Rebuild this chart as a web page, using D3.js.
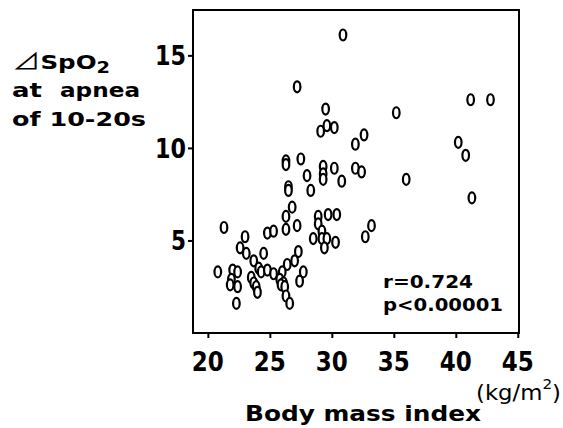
<!DOCTYPE html>
<html><head><meta charset="utf-8">
<script src="https://cdn.jsdelivr.net/npm/d3@7"></script>
<style>
body{margin:0;background:#fff;}
svg{display:block;}
text{fill:#000;}
</style></head>
<body>
<script>
const bmi = [30.9,27.2,29.5,35.2,41.2,42.8,29.1,29.6,30.2,31.9,32.6,40.2,40.8,26.3,26.3,27.5,28.0,28.3,29.3,29.3,29.3,30.2,30.8,31.9,32.4,36.0,41.3,26.5,26.5,26.8,26.3,28.9,29.7,30.4,33.2,32.7,26.3,27.2,21.3,24.8,25.3,23.0,22.6,23.1,24.5,28.9,29.2,28.5,29.2,29.6,30.3,29.4,27.3,23.7,24.1,24.3,24.8,25.3,27.0,26.4,26.0,27.7,27.4,20.8,22.0,22.4,21.9,21.8,22.4,23.5,23.7,23.9,24.0,25.8,26.1,25.9,26.2,26.3,26.6,22.3];
const dspo2 = [16.1,13.3,12.1,11.9,12.6,12.6,10.9,11.2,11.1,10.2,10.7,10.3,9.6,9.3,9.1,9.4,8.5,7.7,9.0,8.6,8.3,8.9,8.2,8.9,8.7,8.3,7.3,7.9,7.7,6.8,6.3,6.3,6.4,6.4,5.8,5.2,5.6,5.8,5.7,5.4,5.5,5.2,4.6,4.3,4.3,5.9,5.5,5.1,5.1,5.1,4.9,4.6,4.4,3.9,3.5,3.3,3.4,3.2,3.9,3.7,3.3,3.3,2.8,3.3,3.4,3.3,2.9,2.6,2.5,3.0,2.7,2.5,2.2,2.9,2.7,2.6,2.5,2.0,1.6,1.6];
const xTicks = [20,25,30,35,40,45];
const yTicks = [5,10,15];
const statLines = ["r=0.724","p<0.00001"];

const W=563,H=428;
const svg=d3.select("body").append("svg").attr("width",W).attr("height",H);
const x=d3.scaleLinear().domain([18.8,45.1]).range([193,519]);
const y=d3.scaleLinear().domain([0,17.45]).range([333,10]);
const font="'DejaVu Sans', 'Liberation Sans', sans-serif";

// frame
svg.append("rect").attr("x",x.range()[0]).attr("y",y.range()[1])
  .attr("width",x.range()[1]-x.range()[0]).attr("height",y.range()[0]-y.range()[1])
  .attr("fill","none").attr("stroke","#000").attr("stroke-width",2);

// axes
const xa=svg.append("g").attr("transform",`translate(0,${y.range()[0]})`)
  .call(d3.axisBottom(x).tickValues(xTicks).tickSize(5).tickSizeOuter(0).tickFormat(""));
xa.select(".domain").remove();
xa.selectAll("line").attr("stroke","#000").attr("stroke-width",2);
const ya=svg.append("g").attr("transform",`translate(${x.range()[0]},0)`)
  .call(d3.axisLeft(y).tickValues(yTicks).tickSize(5).tickSizeOuter(0).tickFormat(""));
ya.select(".domain").remove();
ya.selectAll("line").attr("stroke","#000").attr("stroke-width",2);

// tick labels
svg.append("g").selectAll("text").data(xTicks).join("text")
  .attr("x",d=>x(d)).attr("y",371).attr("text-anchor","middle")
  .attr("font-family",font).attr("font-weight","bold").attr("font-size",27)
  .attr("textLength",32).attr("lengthAdjust","spacingAndGlyphs")
  .text(d=>d);
svg.append("g").selectAll("text").data(yTicks).join("text")
  .attr("x",186).attr("y",d=>y(d)+10).attr("text-anchor","end")
  .attr("font-family",font).attr("font-weight","bold").attr("font-size",27)
  .attr("textLength",d=>d<10?15:31).attr("lengthAdjust","spacingAndGlyphs")
  .text(d=>d);

// points
svg.append("g").selectAll("ellipse").data(bmi).join("ellipse")
  .attr("cx",(d,i)=>x(d)).attr("cy",(d,i)=>y(dspo2[i]))
  .attr("rx",3.3).attr("ry",5.5)
  .attr("fill","#fff").attr("stroke","#000").attr("stroke-width",2.2);

// stats
svg.append("g").selectAll("text").data(statLines).join("text")
  .attr("x",383).attr("y",(d,i)=>288+i*23)
  .attr("font-family",font).attr("font-weight","bold").attr("font-size",17)
  .attr("textLength",(d,i)=>i?120:90).attr("lengthAdjust","spacingAndGlyphs")
  .text(d=>d);

// y title
const yt=svg.append("g").attr("font-family",font).attr("font-size",19).attr("font-weight","bold");
const t1=yt.append("text").attr("x",12).attr("y",69).attr("textLength",98).attr("lengthAdjust","spacingAndGlyphs");
t1.append("tspan").attr("font-family","'Noto Sans CJK JP', 'DejaVu Sans'").attr("font-weight","normal").attr("font-size",22).text("⊿");
t1.append("tspan").text("SpO");
t1.append("tspan").attr("font-size",15).attr("dy",4).text("2");
const t2=yt.append("text").attr("y",97);
t2.append("tspan").attr("x",12).attr("textLength",30).attr("lengthAdjust","spacingAndGlyphs").text("at");
t2.append("tspan").attr("x",60).attr("textLength",80).attr("lengthAdjust","spacingAndGlyphs").text("apnea");
yt.append("text").attr("x",12).attr("y",126).attr("textLength",134).attr("lengthAdjust","spacingAndGlyphs").text("of 10-20s");

// x title
svg.append("text").attr("x",245).attr("y",421)
  .attr("font-family",font).attr("font-weight","bold").attr("font-size",22)
  .attr("textLength",236).attr("lengthAdjust","spacingAndGlyphs")
  .text("Body mass index");
const u=svg.append("text").attr("x",476).attr("y",400).attr("font-family",font).attr("font-size",21)
  .attr("textLength",85).attr("lengthAdjust","spacingAndGlyphs");
u.append("tspan").text("(kg/m");
u.append("tspan").attr("font-size",14).attr("dy",-11).text("2");
u.append("tspan").attr("dy",11).text(")");
</script>
</body></html>
